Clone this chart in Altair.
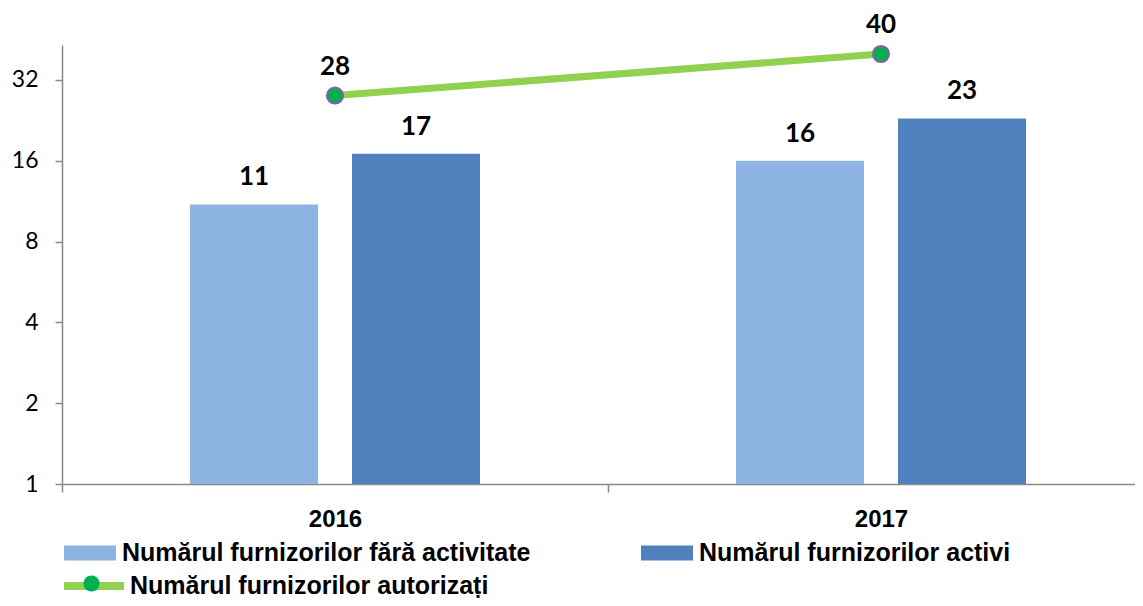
import altair as alt
import pandas as pd

years = ["2016", "2017"]
fara_activitate = [11, 16]
activi = [17, 23]
autorizati = [28, 40]

s_fara = "Numărul furnizorilor fără activitate"
s_activi = "Numărul furnizorilor activi"
s_autor = "Numărul furnizorilor autorizați"

bars = pd.DataFrame({
    "year": years * 2,
    "series": [s_fara] * 2 + [s_activi] * 2,
    "value": fara_activitate + activi,
})
line = pd.DataFrame({"year": years, "value": autorizati, "series": [s_autor] * 2, "pt": ["p"] * 2})

LEG_FONT = "Liberation Sans"
LEG_SIZE = 25

x = alt.X("year:N", scale=alt.Scale(range=[0, 1092], paddingInner=0, paddingOuter=0),
          axis=alt.Axis(title=None, labelAngle=0, tickBand="extent", tickSize=8, tickColor="#898989",
                        tickWidth=1.5, domainColor="#898989", domainWidth=1.5,
                        labelFont=LEG_FONT, labelFontWeight="bold", labelFontSize=24,
                        labelColor="black", labelPadding=15))
yscale = alt.Scale(type="log", base=2, domain=[1, 43.2], nice=False)
y = alt.Y("value:Q", scale=yscale,
          axis=alt.Axis(title=None, values=[1, 2, 4, 8, 16, 32], grid=False, tickSize=7,
                        tickColor="#898989", tickWidth=1.5, domainColor="#898989", domainWidth=1.5,
                        labelFont="Lato", labelFontSize=23, labelColor="black", labelPadding=17))

xoff = alt.XOffset("series:N", sort=[s_fara, s_activi],
                   scale=alt.Scale(paddingInner=0.21, paddingOuter=0.79))

bar_path = "M-1,-0.29L1,-0.29L1,0.29L-1,0.29Z"

bar_layer = alt.Chart(bars).mark_bar(opacity=1).encode(
    x=x, y=y, y2=alt.datum(1), xOffset=xoff,
    fill=alt.Fill("series:N", sort=[s_fara, s_activi],
                  scale=alt.Scale(domain=[s_fara, s_activi], range=["#8DB4E2", "#4F81BD"]),
                  legend=alt.Legend(title=None, orient="none", legendX=2, legendY=482,
                                    direction="horizontal", columns=2, columnPadding=110,
                                    symbolType=bar_path, symbolSize=2704, symbolStrokeWidth=0,
                                    labelFont=LEG_FONT, labelFontWeight="bold",
                                    labelFontSize=LEG_SIZE, labelColor="black", labelOffset=6,
                                    labelLimit=0, padding=0)),
)
bar_text = alt.Chart(bars).mark_text(font="Lato", fontWeight="bold", fontSize=26, baseline="alphabetic",
                                      dy=-19, color="black").encode(
    x=alt.X("year:N"), y=alt.Y("value:Q"), xOffset=xoff, text="value:Q")

line_layer = alt.Chart(line).mark_line(strokeWidth=7).encode(
    x=alt.X("year:N"), y=alt.Y("value:Q"),
    stroke=alt.Stroke("series:N", scale=alt.Scale(domain=[s_autor], range=["#92D050"]),
                      legend=alt.Legend(title=None, orient="none", legendX=-2, legendY=507,
                                        symbolType="stroke", symbolSize=3600, symbolStrokeWidth=8,
                                        labelFont=LEG_FONT, labelFontWeight="bold",
                                        labelFontSize=LEG_SIZE, labelColor="black", labelOffset=2,
                                        labelLimit=0, padding=0)),
)
point_layer = alt.Chart(line).mark_point(filled=True, fill="#00B050", stroke="#8064A2", strokeWidth=2,
                                         size=260, opacity=1).encode(
    x=alt.X("year:N"), y=alt.Y("value:Q"),
    shape=alt.Shape("pt:N", scale=alt.Scale(domain=["p"], range=["circle"]),
                    legend=alt.Legend(title=None, orient="none", legendX=20, legendY=529,
                                      symbolSize=260, symbolFillColor="#00B050",
                                      symbolStrokeColor="#8064A2", symbolStrokeWidth=2,
                                      labelExpr="''", padding=0)),
)
line_text = alt.Chart(line).mark_text(font="Lato", fontWeight="bold", fontSize=26, baseline="alphabetic",
                                       dy=-21, color="black").encode(
    x=alt.X("year:N"), y=alt.Y("value:Q"), text="value:Q")

chart = alt.layer(bar_layer, bar_text, line_layer, point_layer, line_text).properties(
    width=1073, height=439,
    autosize=alt.AutoSizeParams(type="none"),
    padding={"left": 54, "top": 37, "right": 0, "bottom": 114},
).configure_view(stroke=None)

chart.save("out.html", embed_options={"renderer": "svg", "actions": False})
